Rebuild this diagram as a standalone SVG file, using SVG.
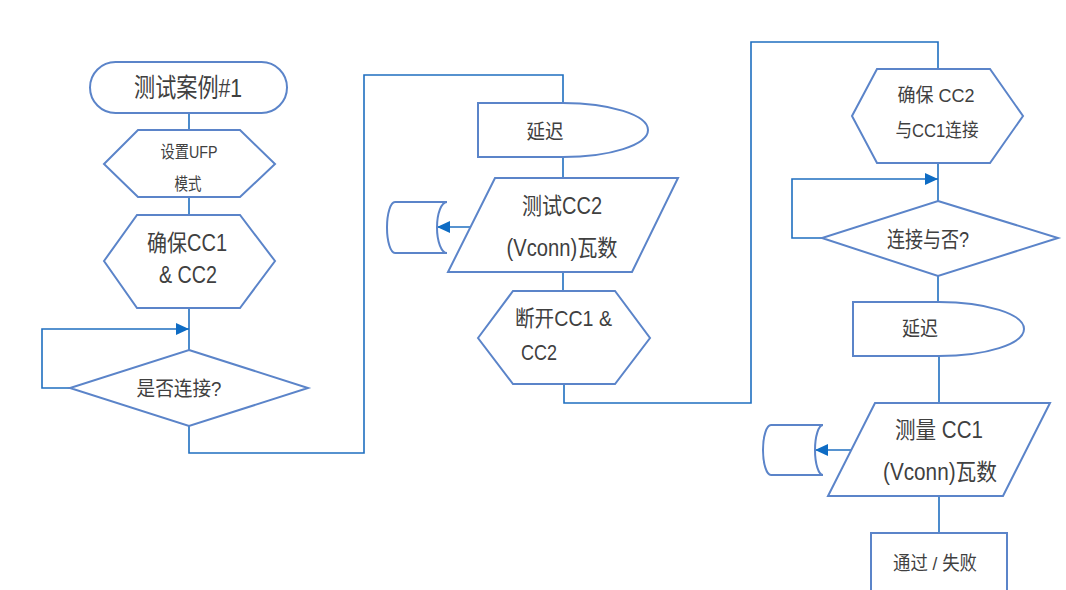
<svg xmlns="http://www.w3.org/2000/svg" width="1066" height="590" viewBox="0 0 1066 590">
<style>
.s{fill:#fff;stroke:#5b84c9;stroke-width:2;stroke-linejoin:miter}
.c{fill:none;stroke:#1f6fc0;stroke-width:1.6}
.t{font-family:"Liberation Sans","Noto Sans CJK SC",sans-serif;fill:#404040;text-anchor:middle;dominant-baseline:central}
.l{text-anchor:start}
</style>
<defs>
<marker id="ah" markerUnits="userSpaceOnUse" markerWidth="14" markerHeight="12" refX="13" refY="6" orient="auto">
<path d="M0,0 L13,6 L0,12 Z" fill="#0e6cc4"/>
</marker>
</defs>
<rect width="1066" height="590" fill="#fff"/>
<g id="connectors">
<path class="c" d="M189,113 V130"/>
<path class="c" d="M189,197 V215"/>
<path class="c" d="M189,308 V350"/>
<path class="c" d="M70,388 H42 V329 H189" marker-end="url(#ah)"/>
<path class="c" d="M189,426 V453 H364 V75 H563 V103"/>
<path class="c" d="M563,157 V178"/>
<path class="c" d="M471,227 H437" marker-end="url(#ah)"/>
<path class="c" d="M563,272 V291"/>
<path class="c" d="M564,384 V403 H751 V42 H938 V69"/>
<path class="c" d="M938,163 V201"/>
<path class="c" d="M822,238 H792 V179 H938" marker-end="url(#ah)"/>
<path class="c" d="M938,276 V302"/>
<path class="c" d="M939,356 V403"/>
<path class="c" d="M851,450 H815" marker-end="url(#ah)"/>
<path class="c" d="M939,496 V533"/>
</g>
<g id="n1">
<rect class="s" x="90" y="62" width="197" height="51" rx="25.5"/>
<text class="t" x="188" y="88" font-size="26" textLength="108" lengthAdjust="spacingAndGlyphs">测试案例#1</text>
</g>
<g id="n2">
<polygon class="s" points="104,164 138,130 240,130 275,164 240,197 138,197"/>
<text class="t" x="189" y="152" font-size="17" textLength="57" lengthAdjust="spacingAndGlyphs">设置UFP</text>
<text class="t" x="188" y="184" font-size="17" textLength="27" lengthAdjust="spacingAndGlyphs">模式</text>
</g>
<g id="n3">
<polygon class="s" points="104,261 137,215 240,215 275,261 240,308 137,308"/>
<text class="t" x="187" y="243" font-size="23" textLength="80" lengthAdjust="spacingAndGlyphs">确保CC1</text>
<text class="t" x="188" y="275" font-size="23" textLength="58" lengthAdjust="spacingAndGlyphs">&amp; CC2</text>
</g>
<g id="n4">
<polygon class="s" points="189,350 308,388 189,426 70,388"/>
<text class="t" x="179" y="389" font-size="20" textLength="85" lengthAdjust="spacingAndGlyphs">是否连接?</text>
</g>
<g id="n5">
<path class="s" d="M478,103 H563 A85,27 0 0 1 563,157 H478 Z"/>
<text class="t" x="545" y="132" font-size="20" textLength="37" lengthAdjust="spacingAndGlyphs">延迟</text>
</g>
<g id="n6">
<polygon class="s" points="495,178 678,178 632,272 448,272"/>
<text class="t" x="562" y="206" font-size="23" textLength="80" lengthAdjust="spacingAndGlyphs">测试CC2</text>
<text class="t" x="562" y="248" font-size="23" textLength="111" lengthAdjust="spacingAndGlyphs">(Vconn)瓦数</text>
</g>
<g id="n7">
<path class="s" d="M395,202 H447 A10,25.5 0 0 0 447,253 H395 A8,25.5 0 0 1 395,202 Z"/>
</g>
<g id="n8">
<polygon class="s" points="478,338 513,291 615,291 650,338 615,384 513,384"/>
<text class="t l" x="515" y="318" font-size="22" textLength="97" lengthAdjust="spacingAndGlyphs">断开CC1 &amp;</text>
<text class="t l" x="521" y="352" font-size="22" textLength="36" lengthAdjust="spacingAndGlyphs">CC2</text>
</g>
<g id="n9">
<polygon class="s" points="852,116 877,69 990,69 1023,116 990,163 877,163"/>
<text class="t" x="936" y="95" font-size="19" textLength="77" lengthAdjust="spacingAndGlyphs">确保 CC2</text>
<text class="t" x="937" y="130" font-size="19" textLength="83" lengthAdjust="spacingAndGlyphs">与CC1连接</text>
</g>
<g id="n10">
<polygon class="s" points="938,201 1058,238 938,276 822,238"/>
<text class="t" x="928" y="239" font-size="22" textLength="82" lengthAdjust="spacingAndGlyphs">连接与否?</text>
</g>
<g id="n11">
<path class="s" d="M853,302 H939 A85,27 0 0 1 939,356 H853 Z"/>
<text class="t" x="920" y="329" font-size="20" textLength="36" lengthAdjust="spacingAndGlyphs">延迟</text>
</g>
<g id="n12">
<polygon class="s" points="875,403 1050,403 1003,496 828,496"/>
<text class="t" x="939" y="430" font-size="23" textLength="88" lengthAdjust="spacingAndGlyphs">测量 CC1</text>
<text class="t" x="940" y="472" font-size="23" textLength="114" lengthAdjust="spacingAndGlyphs">(Vconn)瓦数</text>
</g>
<g id="n13">
<path class="s" d="M771,425 H823 A8,25 0 0 0 823,475 H771 A8,25 0 0 1 771,425 Z"/>
</g>
<g id="n14">
<rect class="s" x="871" y="533" width="136" height="62"/>
<text class="t" x="935" y="563" font-size="19" textLength="84" lengthAdjust="spacingAndGlyphs">通过 / 失败</text>
</g>
</svg>
